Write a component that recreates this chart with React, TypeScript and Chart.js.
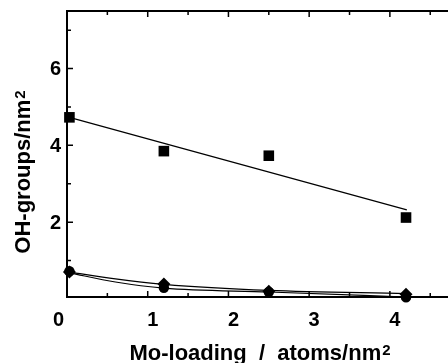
import { useEffect, useRef } from "react";
import { Chart, registerables } from "chart.js";
Chart.register(...registerables);

const loadingX = [0.03, 1.2, 2.5, 4.2];
const squareY = [4.73, 3.85, 3.73, 2.12];
const circleY = [0.72, 0.29, 0.18, 0.04];
const diamondY = [0.7, 0.39, 0.2, 0.12];

const squareFitX = [0.03, 4.21];
const squareFitY = [4.73, 2.32];
const diamondFitX = [0.03, 0.6, 1.2, 2.5, 4.2];
const diamondFitY = [0.7, 0.52, 0.38, 0.22, 0.14];
const circleFitX = [0.03, 0.6, 1.2, 2.5, 4.2];
const circleFitY = [0.68, 0.44, 0.28, 0.18, 0.05];

const xTickValues = [0, 1, 2, 3, 4];
const xTickLabels = ["0", "1", "2", "3", "4"];
const xMinorValues = [0.5, 1.5, 2.5, 3.5, 4.5];
const yTickValues = [2, 4, 6];
const yTickLabels = ["2", "4", "6"];
const yMinorValues = [1, 3, 5, 7];

const xTitle = "Mo-loading  /  atoms/nm";
const yTitle = "OH-groups/nm";
const titleSup = "2";

const FONT = "'Liberation Sans', Arial, sans-serif";

const toPts = (xs: number[], ys: number[]) => xs.map((x, i) => ({ x, y: ys[i] }));

const framePlugin = {
  id: "frame",
  beforeDatasetsDraw(chart: any) {
    const { ctx, chartArea: a, scales } = chart;
    const xs = scales.x;
    const ys = scales.y;
    ctx.save();
    ctx.strokeStyle = "#000";
    ctx.lineWidth = 2;
    ctx.beginPath();
    ctx.moveTo(a.left, a.top);
    ctx.lineTo(a.left, a.bottom);
    ctx.moveTo(a.left - 1, a.bottom);
    ctx.lineTo(a.right, a.bottom);
    ctx.moveTo(a.left - 1, a.top);
    ctx.lineTo(a.right, a.top);
    ctx.stroke();
    ctx.lineWidth = 1.5;
    ctx.beginPath();
    const tick = (v: number, len: number) => {
      const px = xs.getPixelForValue(v);
      ctx.moveTo(px, a.bottom);
      ctx.lineTo(px, a.bottom - len);
      ctx.moveTo(px, a.top);
      ctx.lineTo(px, a.top + len);
    };
    xTickValues.forEach((v) => v > 0 && tick(v, 6));
    xMinorValues.forEach((v) => tick(v, 4));
    const ytick = (v: number, len: number) => {
      const py = ys.getPixelForValue(v);
      ctx.moveTo(a.left, py);
      ctx.lineTo(a.left + len, py);
    };
    yTickValues.forEach((v) => ytick(v, 6));
    yMinorValues.forEach((v) => ytick(v, 4));
    ctx.stroke();

    ctx.fillStyle = "#000";
    ctx.font = `bold 20px ${FONT}`;
    ctx.textAlign = "center";
    ctx.textBaseline = "middle";
    xTickValues.forEach((v, i) => {
      const px = xs.getPixelForValue(v);
      ctx.fillText(xTickLabels[i], v === 0 ? px - 8.5 : px + 5, a.bottom + 23);
    });
    ctx.textAlign = "right";
    yTickValues.forEach((v, i) => {
      ctx.fillText(yTickLabels[i], a.left - 6, ys.getPixelForValue(v) + 1);
    });

    const drawTitle = (text: string, cx: number) => {
      ctx.font = `bold 22px ${FONT}`;
      const w1 = ctx.measureText(text).width;
      ctx.font = `bold 15px ${FONT}`;
      const w2 = ctx.measureText(titleSup).width;
      const start = cx - (w1 + w2 + 1) / 2;
      ctx.textAlign = "left";
      ctx.textBaseline = "alphabetic";
      ctx.font = `bold 22px ${FONT}`;
      ctx.fillText(text, start, 0);
      ctx.font = `bold 15px ${FONT}`;
      ctx.fillText(titleSup, start + w1 + 1, -5);
    };
    ctx.save();
    ctx.translate(0, 360);
    drawTitle(xTitle, 260);
    ctx.restore();
    ctx.save();
    ctx.translate(30, 172);
    ctx.rotate(-Math.PI / 2);
    drawTitle(yTitle, 0);
    ctx.restore();
    ctx.restore();
  },
};

export default function App() {
  const ref = useRef<HTMLCanvasElement | null>(null);
  useEffect(() => {
    if (!ref.current) return;
    const lineDs = (data: any) => ({
      data,
      showLine: true,
      borderColor: "#000",
      borderWidth: 1.2,
      pointRadius: 0,
      fill: false,
      cubicInterpolationMode: "monotone",
      clip: false,
    });
    const markDs = (data: any, style: string, r: number) => ({
      data,
      showLine: false,
      pointStyle: style,
      pointRadius: r,
      backgroundColor: "#000",
      borderColor: "#000",
      borderWidth: 0,
      clip: false,
    });
    const chart = new Chart(ref.current, {
      type: "scatter",
      data: {
        datasets: [
          lineDs(toPts(squareFitX, squareFitY)),
          lineDs(toPts(diamondFitX, diamondFitY)),
          lineDs(toPts(circleFitX, circleFitY)),
          markDs(toPts(loadingX, squareY), "rect", 7.5),
          markDs(toPts(loadingX, circleY), "circle", 5.2),
          markDs(toPts(loadingX, diamondY), "rectRot", 6.5),
        ] as any,
      },
      options: {
        responsive: false,
        animation: false,
        layout: { autoPadding: false, padding: { left: 67, top: 11, right: 0, bottom: 66 } },
        plugins: { legend: { display: false }, tooltip: { enabled: false } },
        scales: {
          x: { type: "linear", min: 0, max: 4.72, display: false },
          y: { type: "linear", min: 0.05, max: 7.5, display: false },
        },
      },
      plugins: [framePlugin],
    });
    return () => chart.destroy();
  }, []);
  return (
    <div style={{ position: "fixed", left: 0, top: 0, width: 448, height: 363, background: "#fff" }}>
      <canvas ref={ref} width={448} height={363} style={{ width: 448, height: 363, display: "block" }} />
    </div>
  );
}
